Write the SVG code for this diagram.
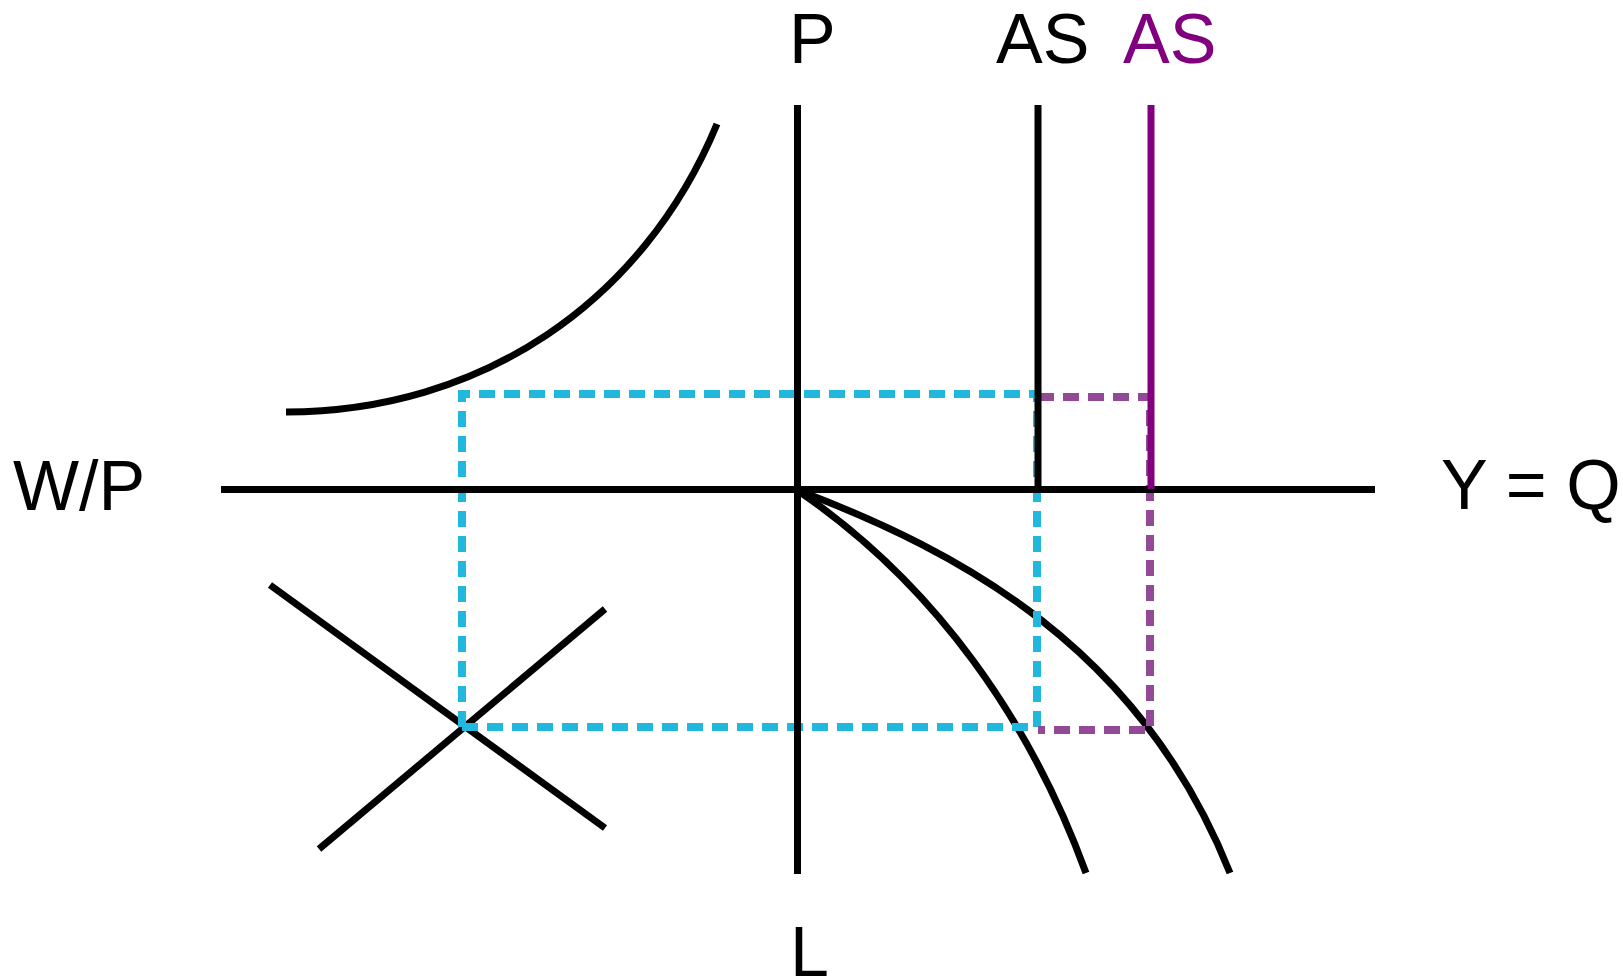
<svg xmlns="http://www.w3.org/2000/svg" width="1623" height="980" viewBox="0 0 1623 980">
<style>
.ln{fill:none;stroke:#000;stroke-width:7}
.bd{fill:none;stroke:#22B8DD;stroke-width:8;stroke-dasharray:16 9}
.pd{fill:none;stroke:#934A96;stroke-width:8;stroke-dasharray:16 9}
.lbl{font-family:"Liberation Sans",Arial,sans-serif;font-size:70px;fill:#000}
</style>
<rect width="1623" height="980" fill="#fff"/>
<g id="curves">
<path id="wage-curve" class="ln" d="M286,412 C480,412 643,303 717,124"/>
<line id="ld-line" class="ln" x1="270" y1="585" x2="605" y2="828"/>
<line id="ls-line" class="ln" x1="319" y1="849" x2="605" y2="609"/>
<path id="prod-1" class="ln" d="M800,492 C935,585 1030,720 1086,873"/>
<path id="prod-2" class="ln" d="M800,491 C960,552 1140,647 1230,873"/>
</g>
<g id="connectors">
<path id="blue-box" class="bd" d="M462,727 V394 H1037 V727 H462"/>
<path id="purple-box" class="pd" d="M1038,397 H1150 V730 H1038"/>
</g>
<g id="axes">
<line id="axis-h" class="ln" x1="221" y1="489.5" x2="1375" y2="489.5"/>
<line id="axis-v" class="ln" x1="797.5" y1="105" x2="797.5" y2="874"/>
<line id="as-black" class="ln" x1="1038" y1="105" x2="1038" y2="489"/>
<line id="as-purple" class="ln" style="stroke:#800080" x1="1151" y1="105" x2="1151" y2="489"/>
</g>
<g id="labels">
<text id="lbl-p" class="lbl" x="789" y="63">P</text>
<text id="lbl-as1" class="lbl" x="996" y="63">AS</text>
<text id="lbl-as2" class="lbl" x="1123" y="63" style="fill:#800080">AS</text>
<text id="lbl-wp" class="lbl" x="13" y="510">W/P</text>
<text id="lbl-yq" class="lbl" x="1441" y="509">Y = Q</text>
<text id="lbl-l" class="lbl" x="790" y="976">L</text>
</g>
</svg>
